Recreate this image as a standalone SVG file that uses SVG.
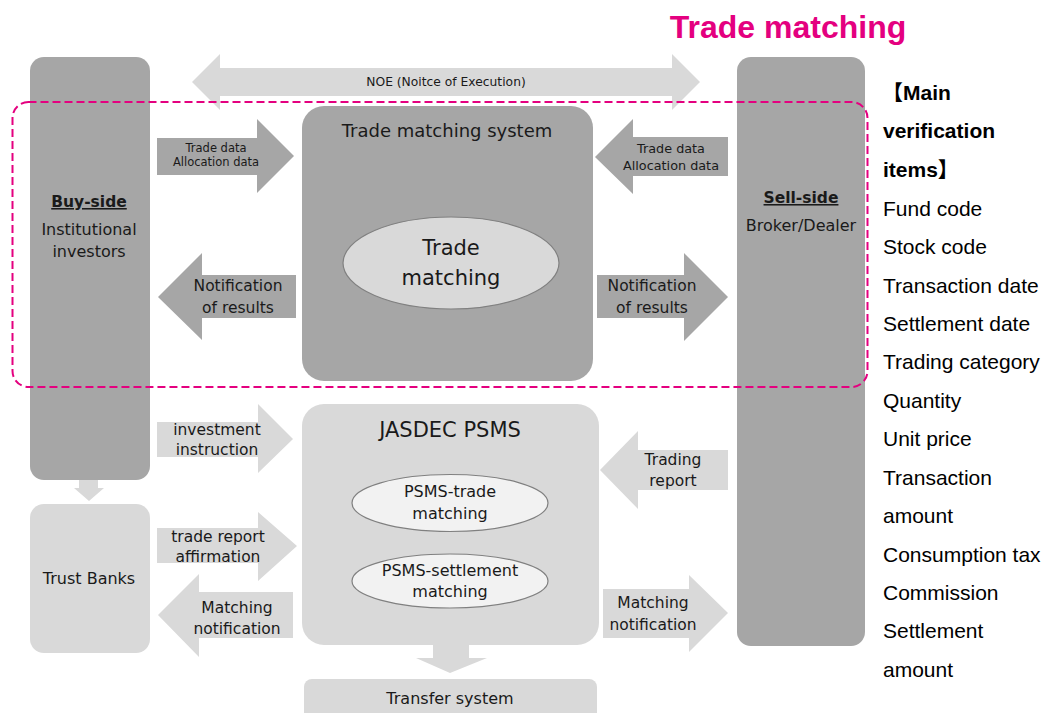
<svg xmlns="http://www.w3.org/2000/svg" width="1045" height="713" viewBox="0 0 1045 713">
<style>
text{font-family:"DejaVu Sans","Noto Sans",sans-serif;fill:#1a1a1a;text-anchor:middle}
.dk{fill:#a6a6a6}
.lt{fill:#d9d9d9}
.el{stroke:#808080;stroke-width:1.2}
.list text{font-family:"Liberation Sans",Arial,"Noto Sans CJK JP",sans-serif;font-size:21px;text-anchor:start;fill:#000}
</style>
<rect width="1045" height="713" fill="#fff"/>
<text x="788" y="38" style="font-family:'Liberation Sans',Arial,sans-serif;font-weight:bold;font-size:32px;fill:#e4007f">Trade matching</text>

<g id="buy-side">
<rect class="dk" x="30" y="57" width="120" height="423" rx="14"/>
<text x="89" y="207" font-size="15.5" font-weight="bold" text-decoration="underline">Buy-side</text>
<text x="89" y="235" font-size="16">Institutional</text>
<text x="89" y="257" font-size="16">investors</text>
</g>
<g id="sell-side">
<rect class="dk" x="737" y="57" width="128" height="589" rx="14"/>
<text x="801" y="203" font-size="15.5" font-weight="bold" text-decoration="underline">Sell-side</text>
<text x="801" y="231" font-size="16">Broker/Dealer</text>
</g>
<g id="tms">
<rect class="dk" x="302" y="106" width="291" height="275" rx="22"/>
<text x="447" y="137" font-size="18">Trade matching system</text>
<ellipse class="lt el" cx="451" cy="263" rx="108" ry="46"/>
<text x="451" y="255" font-size="21">Trade</text>
<text x="451" y="285" font-size="21">matching</text>
</g>
<g id="psms">
<rect class="lt" x="302" y="404" width="297" height="241" rx="22"/>
<text x="450" y="437" font-size="21">JASDEC PSMS</text>
<ellipse class="el" fill="#f2f2f2" cx="450" cy="503" rx="98" ry="28.5"/>
<text x="450" y="497" font-size="16">PSMS-trade</text>
<text x="450" y="519" font-size="16">matching</text>
<ellipse class="el" fill="#f2f2f2" cx="450" cy="581" rx="98" ry="27"/>
<text x="450" y="576" font-size="16">PSMS-settlement</text>
<text x="450" y="597" font-size="16">matching</text>
</g>
<g id="trust-banks">
<rect class="lt" x="30" y="504" width="120" height="149" rx="14"/>
<text x="89" y="584" font-size="16">Trust Banks</text>
</g>
<g id="transfer">
<rect class="lt" x="304" y="679" width="293" height="50" rx="8"/>
<text x="450" y="704" font-size="16">Transfer system</text>
</g>

<g id="connectors">
<polygon class="lt" points="192,82 220,54 220,68 672,68 672,54 700,82 672,110 672,96 220,96 220,110"/>
<text x="446" y="86" font-size="12.3">NOE (Noitce of Execution)</text>
<polygon class="dk" points="157,138 257,138 257,119 294,156 257,193 257,175 157,175"/>
<text x="216" y="152" font-size="11.5">Trade data</text>
<text x="216" y="166" font-size="11.5">Allocation data</text>
<polygon class="dk" points="158,297 202,253 202,275 296,275 296,318 202,318 202,340"/>
<text x="238" y="291" font-size="15.5">Notification</text>
<text x="238" y="313" font-size="15.5">of results</text>
<polygon class="dk" points="595,157 633,119 633,137 728,137 728,176 633,176 633,194"/>
<text x="671" y="153" font-size="12.8">Trade data</text>
<text x="671" y="170" font-size="12.8">Allocation data</text>
<polygon class="dk" points="597,275 684,275 684,253 728,297 684,341 684,318 597,318"/>
<text x="652" y="291" font-size="15.5">Notification</text>
<text x="652" y="313" font-size="15.5">of results</text>
<polygon class="lt" points="157,422 258,422 258,404 293,439 258,473 258,457 157,457"/>
<text x="217" y="435" font-size="15.5">investment</text>
<text x="217" y="455" font-size="15.5">instruction</text>
<polygon class="lt" points="157,528 258,528 258,512 297,546 258,581 258,563 157,563"/>
<text x="218" y="542" font-size="15.5">trade report</text>
<text x="218" y="562" font-size="15.5">affirmation</text>
<polygon class="lt" points="158,615 199,574 199,592 293,592 293,638 199,638 199,657"/>
<text x="237" y="613" font-size="15.5">Matching</text>
<text x="237" y="634" font-size="15.5">notification</text>
<polygon class="lt" points="600,470 638,431 638,450 728,450 728,490 638,490 638,509"/>
<text x="673" y="465" font-size="15.5">Trading</text>
<text x="673" y="486" font-size="15.5">report</text>
<polygon class="lt" points="603,589 689,589 689,575 728,613 689,652 689,638 603,638"/>
<text x="653" y="608" font-size="15.5">Matching</text>
<text x="653" y="630" font-size="15.5">notification</text>
<polygon class="lt" points="433,645 469,645 469,658 487,658 450,673 416,658 433,658"/>
<polygon class="lt" points="79,480 98,480 98,488 104,488 89,501 74,488 79,488"/>
</g>

<rect x="12.5" y="102" width="855" height="285" rx="16" fill="none" stroke="#e4007f" stroke-width="2" stroke-dasharray="8 4"/>

<g id="items" class="list">
<text x="882" y="100" font-weight="bold">【Main</text>
<text x="883" y="138" font-weight="bold">verification</text>
<text x="883" y="177" font-weight="bold">items】</text>
<text x="883" y="216">Fund code</text>
<text x="883" y="254">Stock code</text>
<text x="883" y="293">Transaction date</text>
<text x="883" y="331">Settlement date</text>
<text x="883" y="369">Trading category</text>
<text x="883" y="408">Quantity</text>
<text x="883" y="446">Unit price</text>
<text x="883" y="485">Transaction</text>
<text x="883" y="523">amount</text>
<text x="883" y="562">Consumption tax</text>
<text x="883" y="600">Commission</text>
<text x="883" y="638">Settlement</text>
<text x="883" y="677">amount</text>
</g>
</svg>
